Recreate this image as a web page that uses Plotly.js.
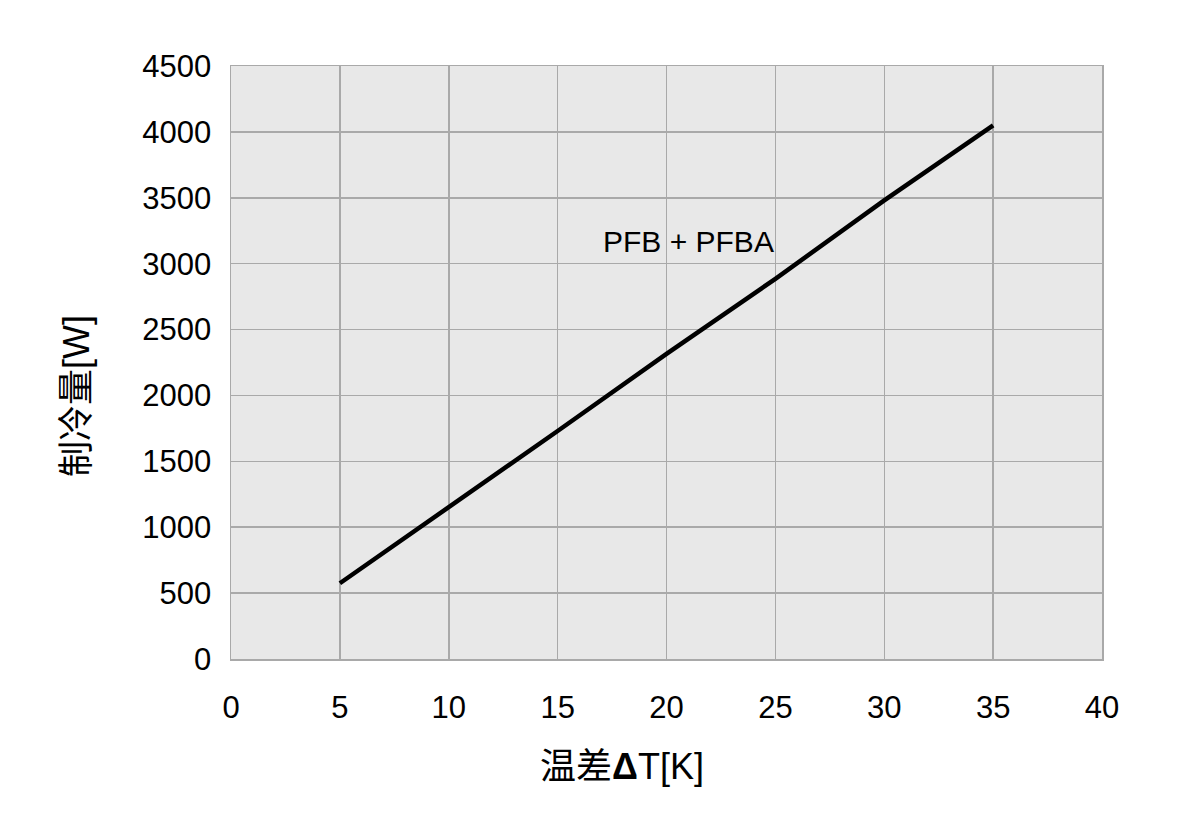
<!DOCTYPE html>
<html>
<head>
<meta charset="utf-8">
<script src="https://cdn.plot.ly/plotly-3.0.1.min.js"></script>
<style>html,body{margin:0;padding:0;background:#fff;}#chart{width:1181px;height:827px;}</style>
</head>
<body>
<div id="chart"></div>
<script>
var deltaT = [5, 10, 15, 20, 25, 30, 35];
var coolingW = [575, 1150, 1730, 2315, 2885, 3480, 4050];
var seriesLabel = 'PFB + PFBA';
var labelPos = [21, 3170];
var xTicks = [0, 5, 10, 15, 20, 25, 30, 35, 40];
var yTicks = [0, 500, 1000, 1500, 2000, 2500, 3000, 3500, 4000, 4500];
var xTitle = '温差<b>Δ</b>T[K]';
var yTitle = '制冷量[W]';

var font = '"Liberation Sans", Arial, "Noto Sans CJK SC", sans-serif';
var gridColor = '#a9a9a9';

Plotly.newPlot('chart', [{
  x: deltaT, y: coolingW, type: 'scatter', mode: 'lines',
  line: {color: '#000000', width: 4.5}, showlegend: false, hoverinfo: 'skip'
}], {
  width: 1181, height: 827,
  margin: {l: 231, r: 79, t: 66, b: 168},
  paper_bgcolor: '#ffffff', plot_bgcolor: '#e8e8e8',
  font: {family: font, color: '#000'},
  xaxis: {
    range: [0, 40], tickvals: xTicks, ticktext: xTicks.map(String),
    showgrid: true, gridcolor: gridColor, gridwidth: 1.5,
    showline: true, linecolor: gridColor, linewidth: 1.5, mirror: true,
    zeroline: false, ticks: '', ticklabelstandoff: 20,
    tickfont: {size: 31, family: font}
  },
  yaxis: {
    range: [0, 4500], tickvals: yTicks, ticktext: yTicks.map(String),
    showgrid: true, gridcolor: gridColor, gridwidth: 1.5,
    showline: true, linecolor: gridColor, linewidth: 1.5, mirror: true,
    zeroline: false, ticks: '', ticklabelstandoff: 12,
    tickfont: {size: 31, family: font}
  },
  annotations: [{
    x: labelPos[0], y: labelPos[1], xref: 'x', yref: 'y',
    text: seriesLabel, showarrow: false,
    font: {size: 30, family: font, color: '#000'}
  }, {
    x: 0.449, y: -0.182, xref: 'paper', yref: 'paper',
    xanchor: 'center', yanchor: 'middle',
    text: xTitle, showarrow: false,
    font: {size: 36, family: font, color: '#000'}
  }, {
    x: -0.178, y: 0.4435, xref: 'paper', yref: 'paper',
    xanchor: 'center', yanchor: 'middle', textangle: -90,
    text: yTitle, showarrow: false,
    font: {size: 36, family: font, color: '#000'}
  }]
}, {displayModeBar: false, staticPlot: true});
</script>
</body>
</html>
